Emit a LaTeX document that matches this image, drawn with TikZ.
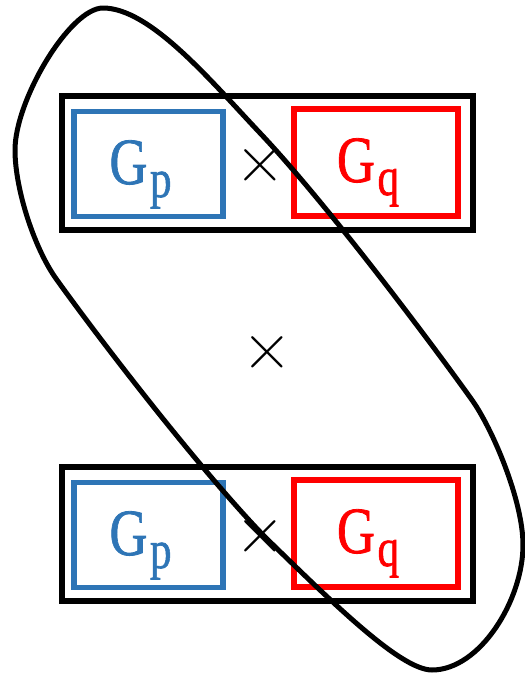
\documentclass[tikz,border=0pt]{standalone}
\usepackage{fontspec}
\usepackage{graphicx}
\newfontfamily\gfont[FakeBold=1.2]{Liberation Serif}
\definecolor{gblue}{RGB}{46,117,182}
\definecolor{gred}{RGB}{255,0,0}
\newcommand\glabel[1]{\scalebox{0.8}[1]{\gfont\fontsize{66}{66}\selectfont G\kern3pt\raisebox{-13pt}{\fontsize{54}{54}\selectfont #1}}}
\begin{document}
\begin{tikzpicture}[x=1pt,y=-1pt,
  outerbox/.style={draw=black,line width=5.5pt,inner sep=0pt,outer sep=0pt,minimum width=411pt,minimum height=134pt},
  bluebox/.style={draw=gblue,line width=5.5pt,inner sep=0pt,outer sep=0pt,minimum width=149pt,minimum height=105pt},
  redbox/.style={draw=gred,line width=5.5pt,inner sep=0pt,outer sep=0pt,minimum width=164pt,minimum height=107pt},
  glab/.style={inner sep=0pt,anchor=base},
  timesmark/.style={inner sep=0pt,font=\fontsize{69}{69}\selectfont},
  ringline/.style={draw=black,line width=5pt,line join=round}]
\useasboundingbox (0,0) rectangle (525,673);
% top row
\node[outerbox] (o1) at (267.5,163) {};
\node[bluebox] (b1) at (148.5,164) {};
\node[redbox] (r1) at (376,162.5) {};
\node[glab,text=gblue] (gp1) at (140.5,184) {\glabel{p}};
\node[glab,text=gred] (gq1) at (368,182) {\glabel{q}};
\node[timesmark] (t1) at (260,165.5) {×};
% middle
\node[timesmark] (t2) at (267,353) {×};
% bottom row
\node[outerbox] (o2) at (267.5,534) {};
\node[bluebox] (b2) at (148.5,535) {};
\node[redbox] (r2) at (376,533.5) {};
\node[glab,text=gblue] (gp2) at (140.5,555) {\glabel{p}};
\node[glab,text=gred] (gq2) at (368,553) {\glabel{q}};
\node[timesmark] (t3) at (260,537) {×};
% loop
\coordinate (k0) at (103,8);
\coordinate (k1) at (260,133);
\coordinate (k2) at (472,400);
\coordinate (k3) at (523,545);
\coordinate (k4) at (432,670);
\coordinate (k5) at (265,537);
\coordinate (k6) at (57,280);
\coordinate (k7) at (15,150);
\draw[ringline] (k0) .. controls (150,8) and (210,80) .. (k1)
  .. controls (330,207) and (440,355) .. (k2)
  .. controls (492,428) and (523,500) .. (k3)
  .. controls (523,600) and (480,670) .. (k4)
  .. controls (400,670) and (330,600) .. (k5)
  .. controls (200,470) and (100,340) .. (k6)
  .. controls (35,250) and (15,190) .. (k7)
  .. controls (15,100) and (70,8) .. (k0) -- cycle;
\end{tikzpicture}
\end{document}
